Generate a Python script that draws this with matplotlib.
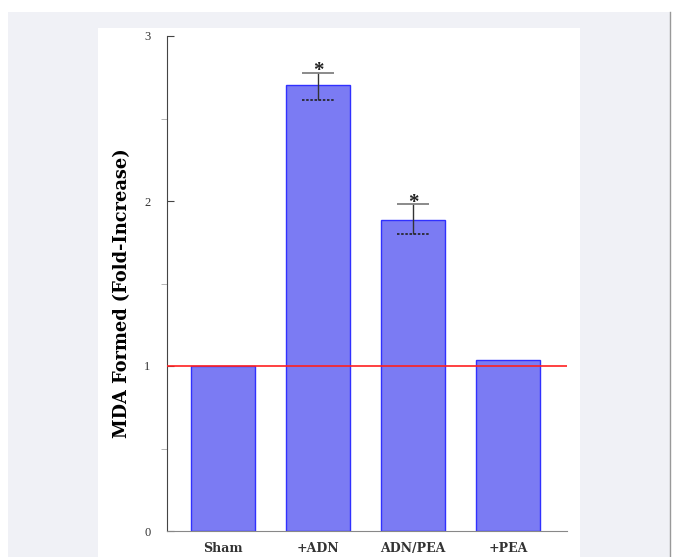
import numpy as np
import matplotlib.pyplot as plt
from matplotlib.patches import Rectangle

groups = ['Sham', '+ADN', 'ADN/PEA', '+PEA']
fold = [1.0, 2.70, 1.885, 1.035]
err_hi = [None, 2.775, 1.98, None]
err_lo = [None, 2.615, 1.80, None]

plt.rcParams['font.family'] = ['Liberation Serif', 'DejaVu Serif']

fig = plt.figure(figsize=(6.76, 5.57), dpi=100)
fig.patch.set_facecolor('white')
W, H = 676.0, 557.0
fig.patches.append(Rectangle((8 / W, 0), 662 / W, 1 - 12 / H, transform=fig.transFigure,
                             facecolor='#f0f1f6', edgecolor='none', zorder=-10))
fig.patches.append(Rectangle((98 / W, 0), 482 / W, 1 - 28 / H, transform=fig.transFigure,
                             facecolor='white', edgecolor='none', zorder=-9))
fig.lines.append(plt.Line2D([670 / W, 670 / W], [0, 1 - 12 / H], transform=fig.transFigure,
                            color='#999999', lw=1))

ax = fig.add_axes([167 / W, 1 - 531 / H, 400 / W, 495 / H])
ax.set_facecolor('none')

x = np.arange(len(groups))
ax.bar(x, fold, width=0.67, color='#7b7bf3', edgecolor='#3030ff', linewidth=1, zorder=2)
ax.axhline(1, color='#ff2020', lw=1.2, zorder=3)

for i in range(len(groups)):
    if err_hi[i] is None:
        continue
    ax.vlines(x[i], err_lo[i], err_hi[i], color='#333333', lw=1, zorder=4)
    ax.hlines(err_hi[i], x[i] - 0.17, x[i] + 0.17, color='#777777', lw=1.2, zorder=4)
    ax.hlines(err_lo[i], x[i] - 0.17, x[i] + 0.17, color='#222222', lw=1.2,
              linestyles=(0, (1.5, 1)), zorder=4)
    ax.text(x[i], err_hi[i] - 0.05, '*', ha='center', va='bottom', fontsize=15,
            fontweight='bold', color='#222222', zorder=5)

ax.set_xlim(-0.59, 3.62)
ax.set_ylim(0, 3)
ax.set_yticks([0, 1, 2, 3])
ax.set_yticks([0.5, 1.5, 2.5], minor=True)
ax.tick_params(axis='y', which='major', direction='in', length=5, color='#444444',
               labelsize=9, pad=12, labelcolor='#333333')
ax.tick_params(axis='y', which='minor', direction='out', length=4, color='#aaaaaa')
ax.set_xticks(x)
ax.set_xticklabels(groups, fontweight='bold', fontsize=9, family='DejaVu Serif',
                   color='#333333')
ax.tick_params(axis='x', length=0, pad=8)

for s in ['top', 'right']:
    ax.spines[s].set_visible(False)
ax.spines['left'].set_color('#444444')
ax.spines['bottom'].set_color('#888888')

ax.set_ylabel('MDA Formed (Fold-Increase)', fontweight='bold', fontsize=12.8,
              family='DejaVu Serif')
ax.yaxis.set_label_coords(-0.09, 0.48)

fig.savefig('out.png', dpi=100)
